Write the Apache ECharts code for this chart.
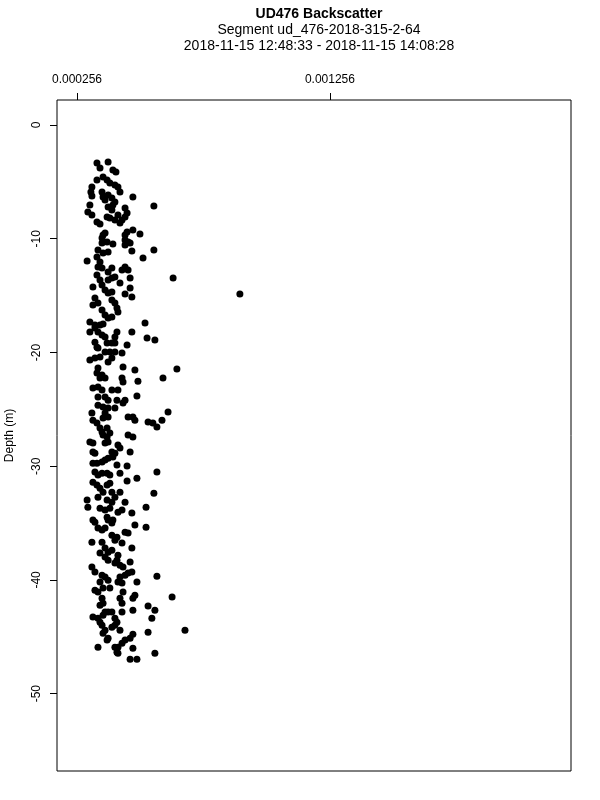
<!DOCTYPE html>
<html><head><meta charset="utf-8">
<script src="https://cdn.jsdelivr.net/npm/echarts@6/dist/echarts.min.js"></script>
<style>html,body{margin:0;padding:0;background:#fff}#c{width:600px;height:800px}</style>
</head><body><div id="c"></div>
<script>
const titleLines = ['UD476 Backscatter', 'Segment ud_476-2018-315-2-64', '2018-11-15 12:48:33 - 2018-11-15 14:08:28'];
const xTicks = [0.000256, 0.001256];
const xTickLabels = ['0.000256', '0.001256'];
const yTicks = [0, -10, -20, -30, -40, -50];
const yName = 'Depth (m)';

const backscatter = [
379e-6,335e-6,347e-6,398e-6,410e-6,335e-6,359e-6,375e-6,386e-6,406e-6,
418e-6,426e-6,315e-6,311e-6,315e-6,355e-6,359e-6,367e-6,379e-6,394e-6,
406e-6,398e-6,477e-6,560e-6,307e-6,379e-6,394e-6,299e-6,315e-6,446e-6,
454e-6,446e-6,418e-6,406e-6,386e-6,375e-6,335e-6,347e-6,434e-6,426e-6,
359e-6,367e-6,355e-6,446e-6,454e-6,477e-6,505e-6,446e-6,458e-6,
355e-6,375e-6,398e-6,446e-6,466e-6,560e-6,473e-6,339e-6,359e-6,379e-6,
296e-6,335e-6,347e-6,339e-6,517e-6,394e-6,379e-6,355e-6,434e-6,446e-6,
458e-6,636e-6,335e-6,347e-6,355e-6,379e-6,394e-6,406e-6,466e-6,426e-6,
319e-6,367e-6,379e-6,394e-6,466e-6,446e-6,473e-6,327e-6,339e-6,319e-6,
394e-6,406e-6,414e-6,418e-6,355e-6,367e-6,379e-6,394e-6,307e-6,327e-6,
347e-6,359e-6,525e-6,900e-6,
307e-6,327e-6,339e-6,355e-6,367e-6,414e-6,406e-6,473e-6,533e-6,564e-6,
327e-6,335e-6,339e-6,375e-6,394e-6,406e-6,454e-6,367e-6,386e-6,406e-6,
434e-6,307e-6,327e-6,347e-6,379e-6,394e-6,438e-6,485e-6,651e-6,596e-6,
339e-6,335e-6,355e-6,367e-6,347e-6,434e-6,438e-6,497e-6,319e-6,339e-6,
355e-6,394e-6,418e-6,339e-6,367e-6,379e-6,414e-6,446e-6,438e-6,493e-6,
339e-6,359e-6,379e-6,406e-6,616e-6,
315e-6,319e-6,335e-6,367e-6,379e-6,359e-6,458e-6,477e-6,485e-6,537e-6,
556e-6,572e-6,592e-6,347e-6,355e-6,375e-6,386e-6,375e-6,359e-6,458e-6,
477e-6,307e-6,319e-6,379e-6,367e-6,418e-6,426e-6,466e-6,327e-6,319e-6,
394e-6,406e-6,398e-6,379e-6,367e-6,355e-6,319e-6,335e-6,414e-6,454e-6,
327e-6,339e-6,355e-6,375e-6,386e-6,426e-6,572e-6,493e-6,454e-6,319e-6,
335e-6,347e-6,359e-6,375e-6,386e-6,394e-6,426e-6,560e-6,
296e-6,299e-6,339e-6,375e-6,394e-6,406e-6,446e-6,529e-6,347e-6,367e-6,
386e-6,418e-6,434e-6,473e-6,319e-6,327e-6,375e-6,379e-6,398e-6,394e-6,
485e-6,529e-6,339e-6,355e-6,367e-6,446e-6,458e-6,394e-6,414e-6,406e-6,
315e-6,355e-6,434e-6,367e-6,379e-6,394e-6,473e-6,347e-6,367e-6,379e-6,
418e-6,414e-6,406e-6,426e-6,438e-6,466e-6,315e-6,327e-6,355e-6,367e-6,
426e-6,446e-6,458e-6,473e-6,493e-6,572e-6,
347e-6,379e-6,418e-6,434e-6,327e-6,339e-6,359e-6,386e-6,438e-6,485e-6,
477e-6,632e-6,355e-6,359e-6,347e-6,426e-6,434e-6,537e-6,564e-6,477e-6,
434e-6,367e-6,379e-6,394e-6,359e-6,319e-6,339e-6,347e-6,355e-6,406e-6,
414e-6,406e-6,394e-6,552e-6,367e-6,359e-6,379e-6,375e-6,426e-6,537e-6,
683e-6,477e-6,466e-6,446e-6,434e-6,418e-6,406e-6,339e-6,477e-6,414e-6,
418e-6,564e-6,466e-6,493e-6
];

const depth = [
-3.25,-3.34,-3.78,-3.96,-4.13,-4.84,-4.57,-4.84,-5.10,-5.28,
-5.45,-5.89,-5.45,-5.89,-6.24,-5.89,-6.33,-6.60,-6.16,-6.42,
-6.77,-7.04,-6.33,-7.12,-7.04,-7.21,-7.48,-7.65,-7.92,-7.30,
-7.74,-8.09,-7.92,-8.36,-8.18,-8.09,-8.53,-8.71,-8.36,-8.62,
-9.67,-9.50,-9.94,-9.67,-9.41,-9.23,-9.59,-10.11,-10.29,
-10.38,-10.29,-10.47,-10.55,-10.38,-10.99,-11.08,-10.99,-11.26,-11.17,
-11.96,-11.61,-12.05,-12.49,-11.70,-12.58,-12.93,-12.58,-12.75,-12.49,
-12.75,-13.46,-13.19,-13.63,-14.07,-13.63,-13.46,-13.37,-13.46,-13.90,
-14.25,-14.51,-14.78,-14.69,-14.34,-14.86,-15.13,-15.22,-15.66,-15.83,
-15.39,-15.66,-16.09,-16.45,-16.27,-16.71,-16.97,-16.89,-17.33,-17.59,
-17.59,-17.50,-17.41,-14.86,
-18.21,-17.85,-18.21,-18.47,-18.65,-18.21,-18.65,-18.21,-18.73,-18.91,
-19.09,-19.53,-19.61,-19.17,-19.17,-19.17,-19.35,-19.96,-19.96,-19.96,
-20.05,-20.67,-20.49,-20.40,-20.84,-20.49,-21.28,-21.55,-21.46,-22.25,
-21.37,-21.81,-21.99,-22.25,-22.25,-22.25,-22.60,-22.52,-23.13,-23.04,
-23.31,-23.31,-23.31,-23.92,-23.92,-24.19,-24.19,-24.19,-24.45,-23.83,
-24.63,-24.80,-24.89,-24.89,-25.24,
-25.33,-25.95,-26.21,-25.33,-25.68,-25.77,-25.68,-25.68,-25.95,-26.12,
-26.21,-26.56,-25.95,-26.65,-27.00,-26.65,-27.09,-27.44,-27.26,-27.26,
-27.44,-27.88,-27.97,-27.88,-27.97,-28.14,-28.41,-28.76,-28.85,-28.76,
-28.76,-28.85,-29.20,-29.29,-29.46,-29.64,-29.73,-29.73,-29.90,-29.99,
-30.52,-30.78,-30.61,-30.61,-30.78,-30.61,-30.52,-31.05,-31.31,-31.40,
-31.66,-31.93,-32.28,-31.66,-31.49,-32.28,-32.28,-32.37,
-32.98,-33.60,-32.72,-32.98,-33.16,-32.72,-33.16,-33.60,-33.69,-33.86,
-33.69,-34.04,-33.86,-34.12,-34.74,-34.92,-34.48,-34.74,-34.74,-35.00,
-35.18,-35.36,-35.44,-35.62,-35.44,-35.80,-35.88,-36.06,-36.24,-36.50,
-36.68,-36.68,-36.76,-37.20,-37.56,-37.38,-37.20,-37.64,-37.99,-38.26,
-37.82,-38.26,-38.52,-38.70,-38.87,-38.43,-38.87,-39.31,-39.58,-39.75,
-39.75,-39.58,-39.40,-39.31,-40.19,-39.67,
-40.19,-40.02,-40.19,-40.28,-40.90,-41.07,-40.72,-40.72,-41.07,-41.34,
-41.60,-41.51,-41.60,-42.04,-42.22,-41.60,-42.04,-42.30,-42.66,-42.66,
-42.83,-42.83,-42.83,-42.83,-43.10,-43.27,-43.36,-43.71,-43.98,-43.36,
-43.71,-43.98,-44.15,-43.36,-44.42,-44.68,-45.12,-45.29,-44.42,-44.59,
-44.42,-44.77,-45.12,-45.29,-45.56,-45.91,-45.91,-45.91,-46.00,-46.35,
-46.44,-46.44,-46.97,-46.97
];

const points = backscatter.map((v, i) => [v, depth[i]]);
const font = 'Liberation Sans, Arial, Helvetica, sans-serif';

const chart = echarts.init(document.getElementById('c'), null, {renderer: 'canvas'});
chart.setOption({
  animation: false,
  backgroundColor: '#fff',
  title: [
    {text: titleLines[0], left: 314, top: 2, textAlign: 'center', textStyle: {fontFamily: font, fontSize: 14, fontWeight: 'bold', color: '#000'}},
    {text: titleLines[1], left: 314, top: 18, textAlign: 'center', textStyle: {fontFamily: font, fontSize: 14, fontWeight: 'normal', color: '#000'}},
    {text: titleLines[2], left: 314, top: 34, textAlign: 'center', textStyle: {fontFamily: font, fontSize: 14, fontWeight: 'normal', color: '#000'}}
  ],
  grid: {left: 57, right: 29, top: 100, bottom: 29, containLabel: false, outerBoundsMode: 'none',
    show: true, borderColor: '#000', borderWidth: 1, backgroundColor: 'transparent'},
  xAxis: {
    type: 'value', position: 'top', min: 0.000177, max: 0.002209,
    axisLine: {show: false, onZero: false},
    splitLine: {show: false},
    axisTick: {show: true, inside: false, length: 7, customValues: xTicks, lineStyle: {color: '#000', width: 1}},
    axisLabel: {customValues: xTicks, margin: 14, fontFamily: font, fontSize: 12, color: '#000',
      formatter: v => { const i = xTicks.findIndex(t => Math.abs(t - v) < 1e-9); return i >= 0 ? xTickLabels[i] : ''; }}
  },
  yAxis: {
    type: 'value', min: -56.8, max: 2.2,
    name: yName, nameLocation: 'middle', nameGap: 41, nameRotate: 90,
    nameTextStyle: {fontFamily: font, fontSize: 12, color: '#000'},
    axisLine: {show: false, onZero: false},
    splitLine: {show: false},
    axisTick: {show: true, inside: false, length: 7, customValues: yTicks, lineStyle: {color: '#000', width: 1}},
    axisLabel: {customValues: yTicks, rotate: 90, margin: 14, fontFamily: font, fontSize: 12, color: '#000',
      formatter: v => String(Math.round(v))}
  },
  series: [{
    type: 'scatter', data: points, symbol: 'circle', symbolSize: 7,
    itemStyle: {color: '#000', opacity: 1},
    emphasis: {disabled: true}
  }]
});
</script></body></html>
